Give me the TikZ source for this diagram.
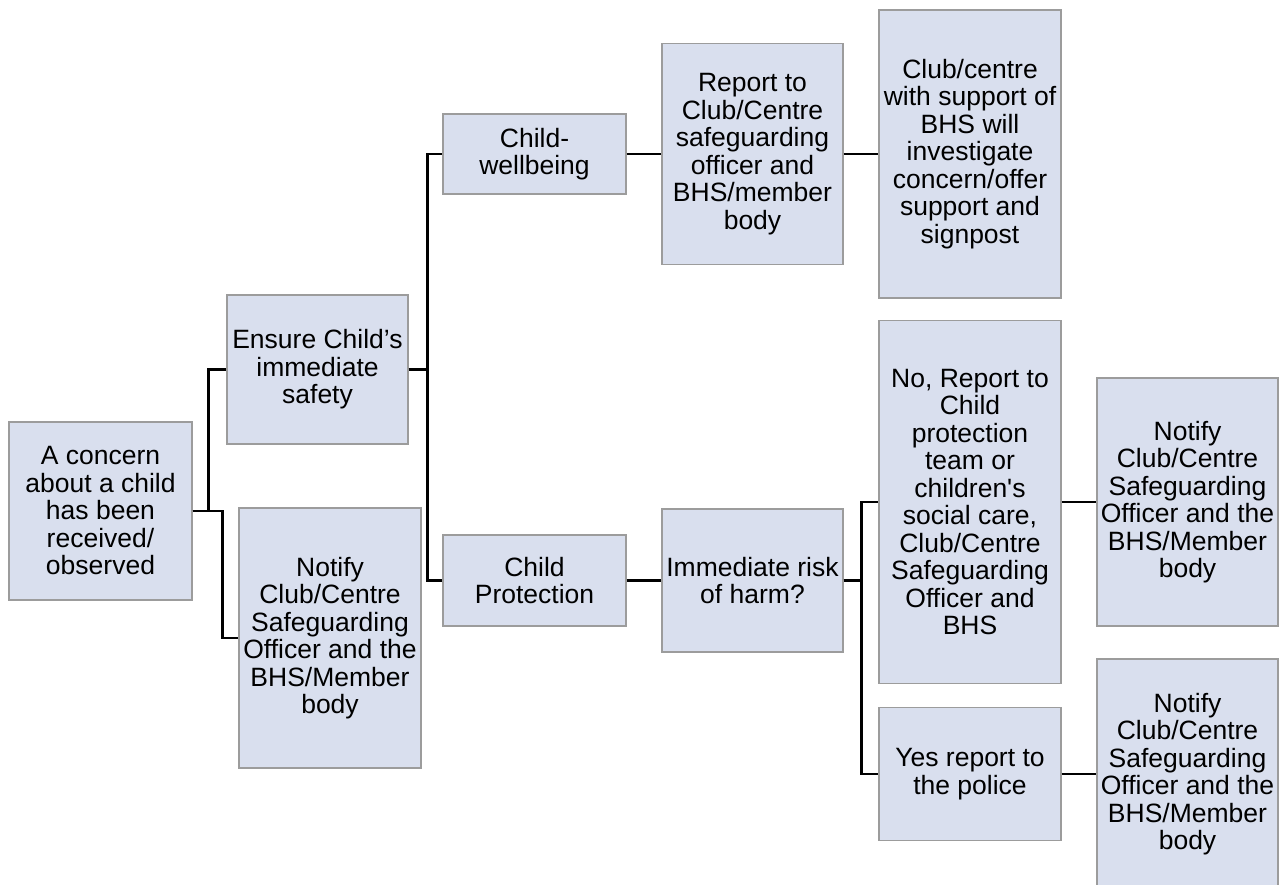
\documentclass[tikz,border=0pt]{standalone}
\usepackage{fontspec}
\setmainfont{Liberation Sans}
\definecolor{boxfill}{HTML}{D9DFEE}
\definecolor{boxline}{HTML}{9C9C9C}
\tikzset{
  box/.style={draw=boxline, line width=1.4pt, fill=boxfill, rectangle, inner sep=0pt, align=center,
    font=\fontsize{26.5}{27.5}\selectfont},
  conn/.style={draw=black, line width=2.6pt, line join=miter}
}
\begin{document}
\begin{tikzpicture}[x=1pt,y=-1pt]
\useasboundingbox (0,0) rectangle (1279,885);
\node[box, minimum width=183pt, minimum height=178pt] (b1) at (100.5,511) {A concern\\about a child\\has been\\received/\\observed};
\node[box, minimum width=181pt, minimum height=149pt] (b2) at (317.5,369.5) {Ensure Child’s\\immediate\\safety};
\node[box, minimum width=182pt, minimum height=260pt] (b3) at (330,638) {Notify\\Club/Centre\\Safeguarding\\Officer and the\\BHS/Member\\body};
\node[box, minimum width=183pt, minimum height=80pt] (b4) at (534.5,154) {Child-\\wellbeing};
\node[box, minimum width=183pt, minimum height=91pt] (b5) at (534.5,580.5) {Child\\Protection};
\node[box, minimum width=181pt, minimum height=221pt] (b6) at (752.5,154) {Report to\\Club/Centre\\safeguarding\\officer and\\BHS/member\\body};
\node[box, minimum width=182pt, minimum height=288pt] (b7) at (970,154) {Club/centre\\with support of\\BHS will\\investigate\\concern/offer\\support and\\signpost};
\node[box, minimum width=181pt, minimum height=143pt] (b8) at (752.5,580.5) {Immediate risk\\of harm?};
\node[box, minimum width=182pt, minimum height=363pt] (b9) at (970,502) {No, Report to\\Child\\protection\\team or\\children\textquotesingle s\\social care,\\Club/Centre\\Safeguarding\\Officer and\\BHS};
\node[box, minimum width=181pt, minimum height=248pt] (b10) at (1187.5,502) {Notify\\Club/Centre\\Safeguarding\\Officer and the\\BHS/Member\\body};
\node[box, minimum width=182pt, minimum height=133pt] (b11) at (970,774) {Yes report to\\the police};
\node[box, minimum width=181pt, minimum height=230pt] (b12) at (1187.5,774) {Notify\\Club/Centre\\Safeguarding\\Officer and the\\BHS/Member\\body};
\draw[conn] (b1.east) -- ++(16,0) |- (b2.west);
\draw[conn] (b1.east) -- ++(30,0) |- (b3.west);
\draw[conn] (b2.east) -- ++(19,0) |- (b4.west);
\draw[conn] (b2.east) -- ++(19,0) |- (b5.west);
\draw[conn] (b4.east) -- (b6.west);
\draw[conn] (b6.east) -- (b7.west);
\draw[conn] (b5.east) -- (b8.west);
\draw[conn] (b8.east) -- ++(18,0) |- (b9.west);
\draw[conn] (b8.east) -- ++(18,0) |- (b11.west);
\draw[conn] (b9.east) -- (b10.west);
\draw[conn] (b11.east) -- (b12.west);
\end{tikzpicture}
\end{document}
